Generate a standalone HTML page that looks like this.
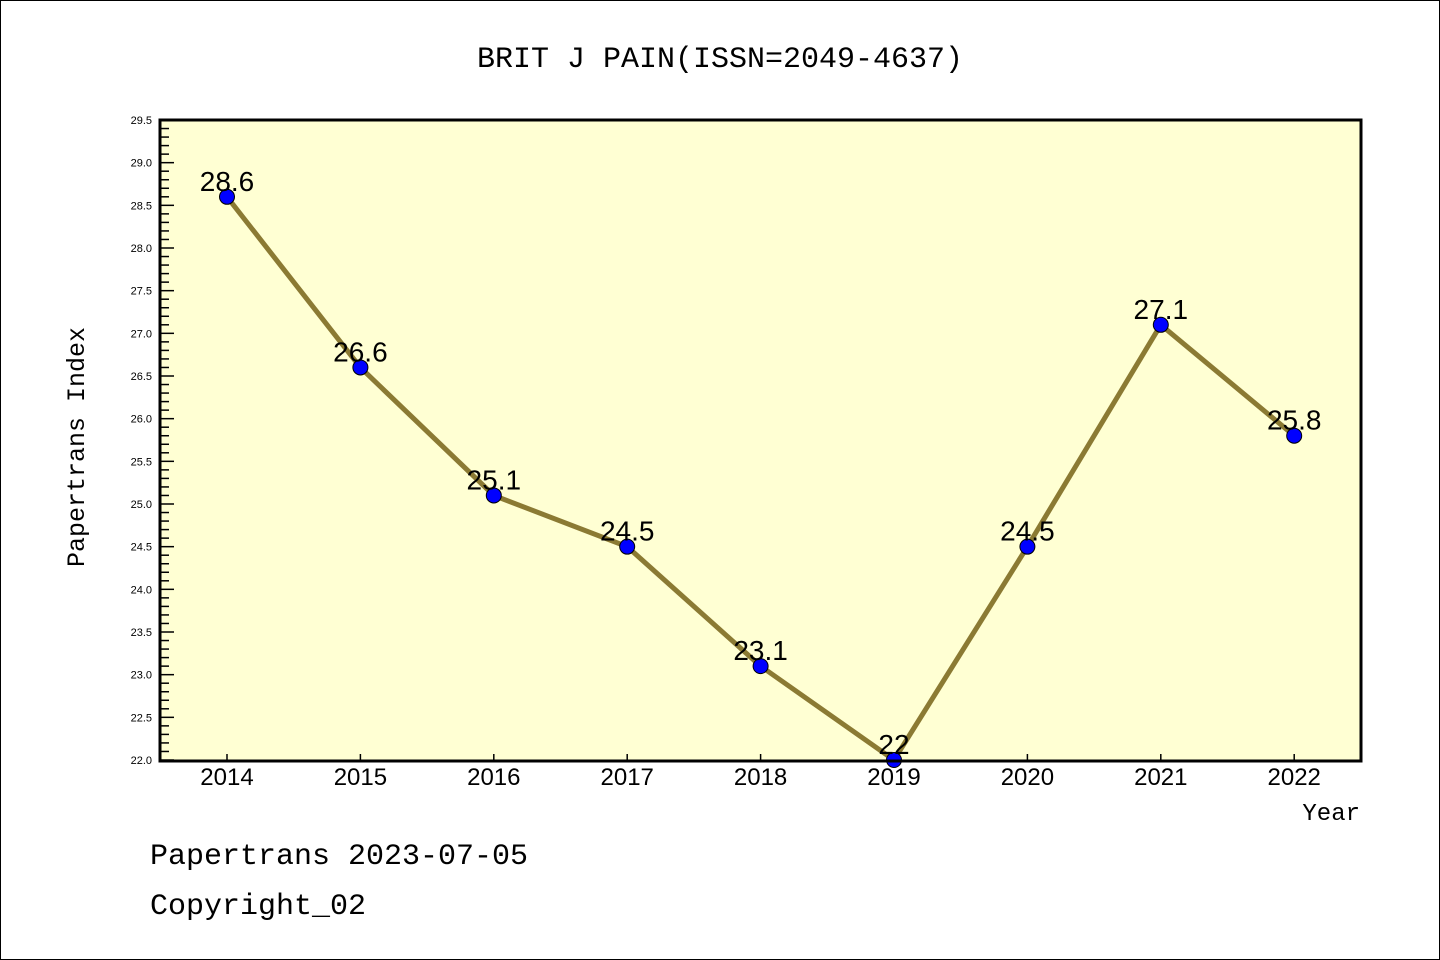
<!DOCTYPE html>
<html><head><meta charset="utf-8"><style>
body{margin:0;background:#fff}
svg{display:block;font-family:"Liberation Mono","DejaVu Sans Mono",monospace}
</style></head><body>
<svg id="c" width="1440" height="960" viewBox="0 0 1440 960">
<rect x="0.5" y="0.5" width="1439" height="959" fill="#fff" stroke="#000"/>
<text x="720" y="67" font-size="30" text-anchor="middle">BRIT J PAIN(ISSN=2049-4637)</text>
<rect x="160" y="120" width="1201" height="641" fill="#ffffd3"/>
<g id="yax"></g>
<g id="xax"></g>
<g id="series"></g>
<rect x="160" y="120" width="1201" height="641" fill="none" stroke="#000" stroke-width="3"/>
<text transform="translate(84,447) rotate(-90)" font-size="25" text-anchor="middle">Papertrans Index</text>
<text x="1360" y="820" font-size="24" text-anchor="end">Year</text>
<text x="150" y="864" font-size="30">Papertrans 2023-07-05</text>
<text x="150" y="914" font-size="30">Copyright_02</text>
</svg>
<script>
const categories=["2014","2015","2016","2017","2018","2019","2020","2021","2022"];
const values=[28.6,26.6,25.1,24.5,23.1,22,24.5,27.1,25.8];
const labels=["28.6","26.6","25.1","24.5","23.1","22","24.5","27.1","25.8"];
const yTicks=["22.0","22.5","23.0","23.5","24.0","24.5","25.0","25.5","26.0","26.5","27.0","27.5","28.0","28.5","29.0","29.5"];
const NS="http://www.w3.org/2000/svg";
const yMin=22,yMax=29.5,yTop=120,yBot=760;
const yS=v=>yBot-(v-yMin)/(yMax-yMin)*(yBot-yTop);
const xS=i=>227+i*133.4;
function mk(t,a,p){const e=document.createElementNS(NS,t);for(const k in a)e.setAttribute(k,a[k]);p.appendChild(e);return e;}
const yax=document.getElementById('yax'),xax=document.getElementById('xax'),ser=document.getElementById('series');
for(let k=0;k<=75;k++){const v=yMin+k*0.1;const major=k%5===0;
 const l=mk('line',{x1:160,x2:major?174:169,y1:yS(v),y2:yS(v),stroke:'#000','stroke-width':1.5},yax);
 
 }
yTicks.forEach(t=>{const e=mk('text',{x:152,y:yS(parseFloat(t))+4,'font-size':11,'text-anchor':'end','font-family':'Liberation Sans, sans-serif'},yax);e.textContent=t;
 
 });
categories.forEach((c,i)=>{const l=mk('line',{x1:xS(i),x2:xS(i),y1:761,y2:754,stroke:'#000','stroke-width':1.5},xax);
 
 
 const e=mk('text',{x:xS(i),y:785,'font-size':24,'text-anchor':'middle','font-family':'Liberation Sans, sans-serif'},xax);e.textContent=c;
 
 });
const pl=mk('polyline',{points:values.map((v,i)=>xS(i)+','+yS(v)).join(' '),fill:'none',stroke:'#8b7a33','stroke-width':5},ser);


values.forEach((v,i)=>{const c=mk('circle',{cx:xS(i),cy:yS(v),r:7.5,fill:'#0000ff',stroke:'#000','stroke-width':1},ser);
 
 
 const t=mk('text',{x:xS(i),y:yS(v)-6,'font-size':28,'text-anchor':'middle','font-family':'Liberation Sans, sans-serif'},ser);
 t.textContent=labels[i];
 
 });
</script>
</body></html>
